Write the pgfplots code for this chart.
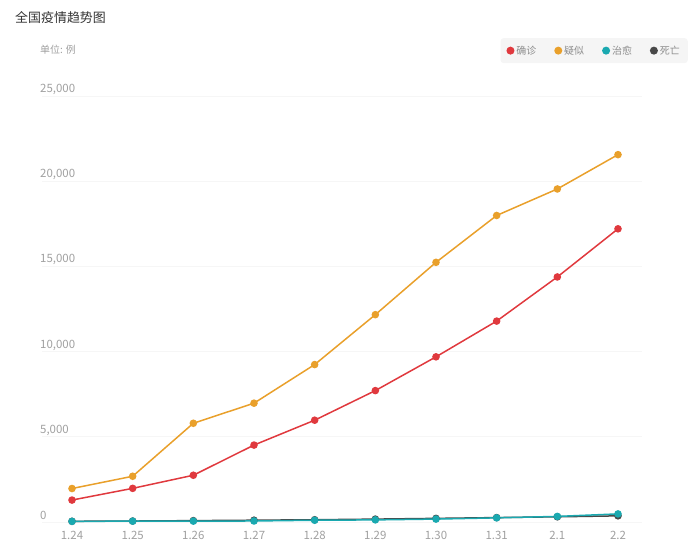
\documentclass[border=0pt]{standalone}
\usepackage{fontspec}
\setmainfont{Noto Sans CJK SC}
\usepackage{pgfplots}
\usepackage{pgfplotstable}
\pgfplotsset{compat=1.18}

\definecolor{qzred}{HTML}{E0393E}
\definecolor{ysorange}{HTML}{E9A02B}
\definecolor{zyteal}{HTML}{1AA9B0}
\definecolor{swdark}{HTML}{484848}
\definecolor{ticktxt}{HTML}{A0A0A0}
\definecolor{gridc}{HTML}{F6F6F6}
\definecolor{legbg}{HTML}{F5F5F5}

% 1.24 ... 2.2  -> x = 0..9
\pgfplotstableread{
x  qz     ys     zy   sw
0  1287   1965   38   41
1  1975   2684   49   56
2  2744   5794   51   80
3  4515   6973   60   106
4  5974   9239   103  132
5  7711   12167  124  170
6  9692   15238  171  213
7  11791  17988  243  259
8  14380  19544  328  304
9  17205  21558  475  361
}\epidata

\begin{document}
\begin{tikzpicture}
\begin{axis}[
    at={(0,0)}, anchor=south west,
    scale only axis,
    width=600.6bp, height=426bp,
    xmin=-0.5, xmax=9.4,
    ymin=0, ymax=25000,
    clip=false,
    axis line style={draw=none},
    major tick length=0pt,
    xtick={0,...,9},
    xticklabels={1.24,1.25,1.26,1.27,1.28,1.29,1.30,1.31,2.1,2.2},
    ytick={0,5000,10000,15000,20000,25000},
    scaled y ticks=false,
    /pgf/number format/.cd, 1000 sep={,}, assume math mode=true,
    /pgfplots/.cd,
    ymajorgrids=true,
    grid style={gridc, line width=0.8bp},
    ticklabel style={font=\fontsize{11.5}{13}\selectfont, text=ticktxt, inner sep=0pt},
    yticklabel style={anchor=west, xshift=-1.67bp, yshift=6.5bp},
    xticklabel style={anchor=north, yshift=-9bp},
    legend columns=4,
    legend cell align=left,
    legend style={
        at={(1.0761,1.1362)}, anchor=north east,
        draw=none, fill=legbg, rounded corners=3bp,
        font=\fontsize{10}{12}\selectfont, text=gray!90,
        inner xsep=6bp, inner ysep=5.5bp,
        /tikz/every even column/.append style={column sep=16bp},
    },
    legend image code/.code={\fill[#1] (3bp,0bp) circle (3.2bp);},
    every axis plot/.append style={line width=1.5bp, mark=*, mark size=3bp, mark options={solid}},
]
% deaths drawn first so that the cured line lies on top
\addplot[color=swdark, forget plot] table[x=x, y=sw] {\epidata};
\addplot[color=qzred] table[x=x, y=qz] {\epidata};
\addlegendentry{确诊}
\addplot[color=ysorange] table[x=x, y=ys] {\epidata};
\addlegendentry{疑似}
\addplot[color=zyteal] table[x=x, y=zy] {\epidata};
\addlegendentry{治愈}
\addlegendimage{color=swdark}
\addlegendentry{死亡}
\end{axis}
\node[anchor=west, inner sep=0pt, text=black!80, font=\fontsize{13}{15}\selectfont] at (-26.67bp,504bp) {全国疫情趋势图};
\node[anchor=west, inner sep=0pt, text=ticktxt, font=\fontsize{10}{12}\selectfont] at (-1.67bp,472bp) {单位: 例};
\pgfresetboundingbox
\path[use as bounding box] (-41.67bp,-25bp) rectangle (651.33bp,522bp);
\end{tikzpicture}
\end{document}
